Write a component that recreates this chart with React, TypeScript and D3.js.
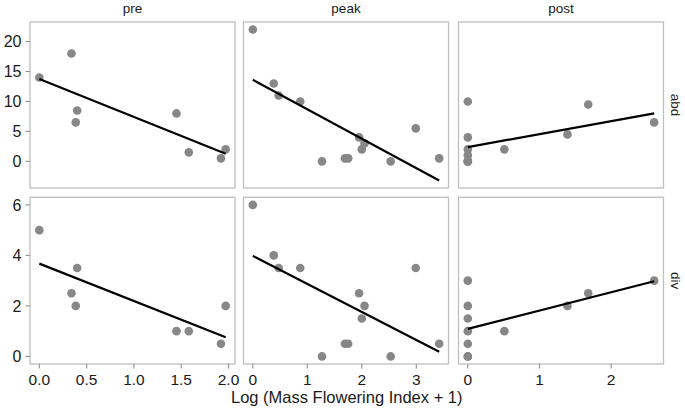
import React from "react";
import * as d3 from "d3";

const stages = ["pre", "peak", "post"];
const measures = ["abd", "div"];

const preX = [0, 0.34, 0.4, 0.385, 1.45, 1.58, 1.92, 1.97];
const preAbd = [14, 18, 8.5, 6.5, 8, 1.5, 0.5, 2];
const preDiv = [5, 2.5, 3.5, 2, 1, 1, 0.5, 2];

const peakX = [0, 0.384, 0.475, 0.87, 1.27, 1.69, 1.75, 1.95, 2.05, 2.0, 2.53, 2.99, 3.42];
const peakAbd = [22, 13, 11, 10, 0, 0.5, 0.5, 4, 3, 2, 0, 5.5, 0.5];
const peakDiv = [6, 4, 3.5, 3.5, 0, 0.5, 0.5, 2.5, 2, 1.5, 0, 3.5, 0.5];

const postX = [0, 0, 0, 0, 0, 0, 0, 0.51, 1.39, 1.68, 2.6];
const postAbd = [10, 4, 2, 1, 0, 0, 0, 2, 4.5, 9.5, 6.5];
const postDiv = [3, 2, 1.5, 1, 0.5, 0, 0, 1, 2, 2.5, 3];

const xTicks = [
  [0, 0.5, 1, 1.5, 2],
  [0, 1, 2, 3],
  [0, 1, 2],
];
const yTicks = [
  [0, 5, 10, 15, 20],
  [0, 2, 4, 6],
];
const xTitle = "Log (Mass Flowering Index + 1)";

const xs = [preX, peakX, postX];
const ys = [
  [preAbd, peakAbd, postAbd],
  [preDiv, peakDiv, postDiv],
];

const colX = [30, 243.5, 458.5];
const colW = 205;
const rowY = [22, 197.3];
const rowH = [166, 166.7];

function fit(x: number[], y: number[]) {
  const mx = d3.mean(x)!;
  const my = d3.mean(y)!;
  let sxy = 0,
    sxx = 0;
  x.forEach((v, i) => {
    sxy += (v - mx) * (y[i] - my);
    sxx += (v - mx) * (v - mx);
  });
  const b = sxy / sxx;
  const a = my - b * mx;
  const x0 = d3.min(x)!;
  const x1 = d3.max(x)!;
  return [
    [x0, a + b * x0],
    [x1, a + b * x1],
  ] as [number, number][];
}

function expand(ext: [number, number]): [number, number] {
  const s = ext[1] - ext[0];
  return [ext[0] - 0.05 * s, ext[1] + 0.05 * s];
}

export default function App() {
  const fits = ys.map((row) => row.map((y, c) => fit(xs[c], y)));
  const xScales = xs.map((x, c) =>
    d3.scaleLinear().domain(expand(d3.extent(x) as [number, number])).range([colX[c], colX[c] + colW])
  );
  const yScales = ys.map((row, r) => {
    const vals: number[] = [];
    row.forEach((y, c) => {
      vals.push(...y);
      fits[r][c].forEach((p) => vals.push(p[1]));
    });
    return d3
      .scaleLinear()
      .domain(expand(d3.extent(vals) as [number, number]))
      .range([rowY[r] + rowH[r], rowY[r]]);
  });
  const font = "'Liberation Sans', Arial, sans-serif";
  const line = d3.line<[number, number]>();
  const tickColor = "#8f8f8f";
  return (
    <svg width={685} height={412} style={{ position: "absolute", left: 0, top: 0, background: "#fff" }} fontFamily={font}>
      <rect width={685} height={412} fill="#fff" />
      {stages.map((s, c) => (
        <text key={s} x={colX[c] + colW / 2} y={12.5} textAnchor="middle" fontSize={13.5} fill="#1a1a1a">
          {s}
        </text>
      ))}
      {measures.map((m, r) => (
        <text
          key={m}
          transform={`translate(${675.5},${rowY[r] + rowH[r] / 2}) rotate(90)`}
          textAnchor="middle"
          dy="0.35em"
          fontSize={13.5}
          fill="#1a1a1a"
        >
          {m}
        </text>
      ))}
      {ys.map((row, r) =>
        row.map((y, c) => {
          const sx = xScales[c];
          const sy = yScales[r];
          const pts = fits[r][c].map((p) => [sx(p[0]), sy(p[1])] as [number, number]);
          return (
            <g key={`${r}-${c}`}>
              <rect x={colX[c]} y={rowY[r]} width={colW} height={rowH[r]} fill="#fff" stroke="#bfbfbf" strokeWidth={1.3} />
              {y.map((v, i) => (
                <circle key={i} cx={sx(xs[c][i])} cy={sy(v)} r={4.3} fill="#878787" />
              ))}
              <path d={line(pts)!} stroke="#000" strokeWidth={2.2} fill="none" />
            </g>
          );
        })
      )}
      {yTicks.map((ticks, r) =>
        ticks.map((t) => {
          const yy = yScales[r](t);
          return (
            <g key={`yt-${r}-${t}`}>
              <line x1={colX[0] - 4.5} x2={colX[0]} y1={yy} y2={yy} stroke={tickColor} strokeWidth={1.1} />
              <text x={colX[0] - 8.5} y={yy} dy="0.36em" textAnchor="end" fontSize={16} fill="#1a1a1a">
                {t}
              </text>
            </g>
          );
        })
      )}
      {xTicks.map((ticks, c) =>
        ticks.map((t) => {
          const xx = xScales[c](t);
          const yb = rowY[1] + rowH[1];
          return (
            <g key={`xt-${c}-${t}`}>
              <line x1={xx} x2={xx} y1={yb} y2={yb + 4.5} stroke={tickColor} strokeWidth={1.1} />
              <text x={xx} y={384.5} textAnchor="middle" fontSize={15.5} fill="#1a1a1a">
                {c === 0 ? d3.format(".1f")(t) : t}
              </text>
            </g>
          );
        })
      )}
      <text x={(colX[0] + colX[2] + colW) / 2} y={403} textAnchor="middle" fontSize={16.5} fill="#1a1a1a">
        {xTitle}
      </text>
    </svg>
  );
}
